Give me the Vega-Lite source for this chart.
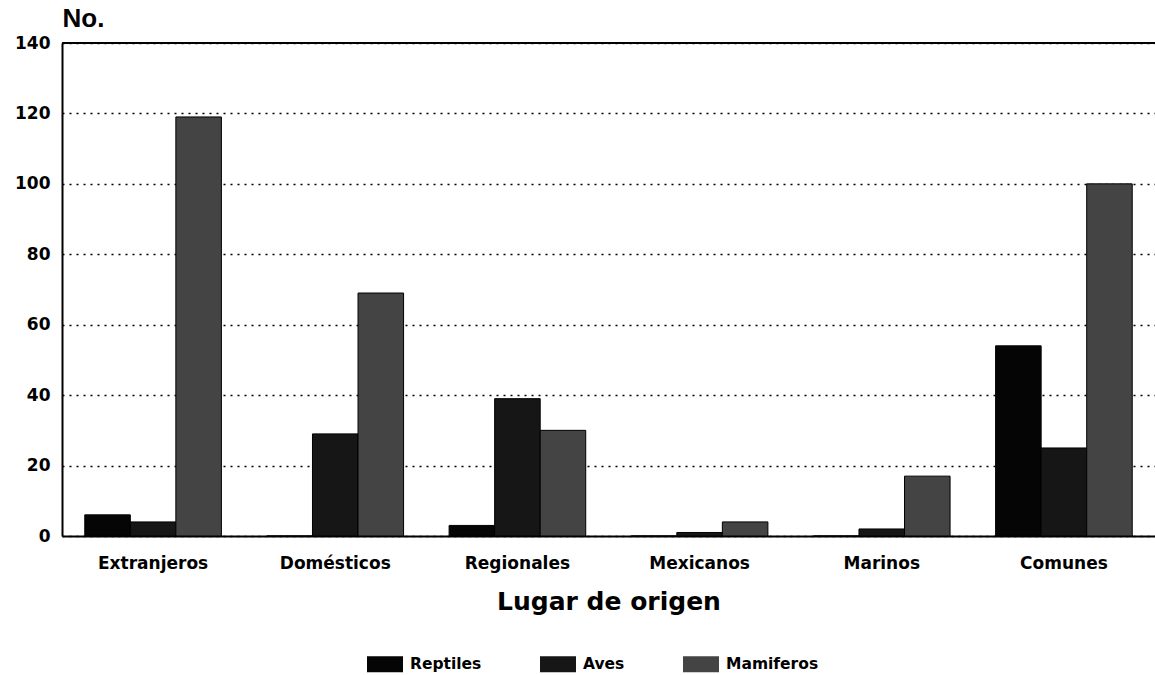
{
  "$schema": "https://vega.github.io/schema/vega-lite/v6.json",
  "width": 1093,
  "height": 493,
  "autosize": {"type": "none"},
  "padding": {"left": 62, "top": 43, "right": 0, "bottom": 139},
  "background": "white",
  "config": {
    "view": {"stroke": null},
    "font": "Liberation Sans"
  },
  "data": {
    "values": [
      {"origen": "Extranjeros", "grupo": "Reptiles", "n": 6},
      {"origen": "Extranjeros", "grupo": "Aves", "n": 4},
      {"origen": "Extranjeros", "grupo": "Mamiferos", "n": 119},
      {"origen": "Domésticos", "grupo": "Reptiles", "n": 0},
      {"origen": "Domésticos", "grupo": "Aves", "n": 29},
      {"origen": "Domésticos", "grupo": "Mamiferos", "n": 69},
      {"origen": "Regionales", "grupo": "Reptiles", "n": 3},
      {"origen": "Regionales", "grupo": "Aves", "n": 39},
      {"origen": "Regionales", "grupo": "Mamiferos", "n": 30},
      {"origen": "Mexicanos", "grupo": "Reptiles", "n": 0},
      {"origen": "Mexicanos", "grupo": "Aves", "n": 1},
      {"origen": "Mexicanos", "grupo": "Mamiferos", "n": 4},
      {"origen": "Marinos", "grupo": "Reptiles", "n": 0},
      {"origen": "Marinos", "grupo": "Aves", "n": 2},
      {"origen": "Marinos", "grupo": "Mamiferos", "n": 17},
      {"origen": "Comunes", "grupo": "Reptiles", "n": 54},
      {"origen": "Comunes", "grupo": "Aves", "n": 25},
      {"origen": "Comunes", "grupo": "Mamiferos", "n": 100}
    ]
  },
  "layer": [
    {
      "mark": {"type": "bar", "stroke": "black", "strokeWidth": 1},
      "encoding": {
        "x": {
          "field": "origen",
          "type": "nominal",
          "sort": ["Extranjeros", "Domésticos", "Regionales", "Mexicanos", "Marinos", "Comunes"],
          "scale": {"paddingInner": 0.25, "paddingOuter": 0.125},
          "axis": {
            "title": "Lugar de origen",
            "titleFont": "DejaVu Sans",
            "titleFontSize": 25,
            "titleFontWeight": "bold",
            "titleColor": "black",
            "titlePadding": 18,
            "labelAngle": 0,
            "labelFont": "DejaVu Sans",
            "labelFontSize": 17,
            "labelFontWeight": "bold",
            "labelColor": "black",
            "labelPadding": 19,
            "ticks": false,
            "domainColor": "black",
            "domainWidth": 2
          }
        },
        "xOffset": {
          "field": "grupo",
          "type": "nominal",
          "sort": ["Reptiles", "Aves", "Mamiferos"],
          "scale": {"paddingInner": 0, "paddingOuter": 0}
        },
        "y": {
          "field": "n",
          "type": "quantitative",
          "scale": {"domain": [0, 140], "nice": false},
          "axis": {
            "values": [0, 20, 40, 60, 80, 100, 120, 140],
            "title": "No.",
            "titleAngle": 0,
            "titleAlign": "left",
            "titleBaseline": "alphabetic",
            "titleX": 0,
            "titleY": -17,
            "titleFontSize": 26,
            "titleFontWeight": "bold",
            "titleColor": "black",
            "labelFont": "DejaVu Sans",
            "labelFontSize": 17,
            "labelFontWeight": "bold",
            "labelColor": "black",
            "labelPadding": 12,
            "tickSize": 0,
            "domainColor": "black",
            "domainWidth": 2,
            "grid": true,
            "gridColor": "black",
            "gridDash": [2, 5],
            "gridWidth": 1.5
          }
        },
        "color": {
          "field": "grupo",
          "type": "nominal",
          "sort": ["Reptiles", "Aves", "Mamiferos"],
          "scale": {"domain": ["Reptiles", "Aves", "Mamiferos"], "range": ["#050505", "#161616", "#444444"]},
          "legend": {
            "title": null,
            "orient": "none",
            "direction": "horizontal",
            "legendX": 305,
            "legendY": 603,
            "symbolType": "M-1,-0.45H1V0.45H-1Z",
            "symbolSize": 1296,
            "symbolStrokeWidth": 0,
            "labelFontSize": 15.5,
            "labelFontWeight": "bold",
            "labelFont": "DejaVu Sans",
            "labelColor": "black",
            "labelOffset": 7,
            "columnPadding": 58
          }
        }
      }
    },
    {
      "mark": {"type": "rule", "color": "black", "strokeWidth": 2},
      "encoding": {"y": {"datum": 140}}
    }
  ]
}
